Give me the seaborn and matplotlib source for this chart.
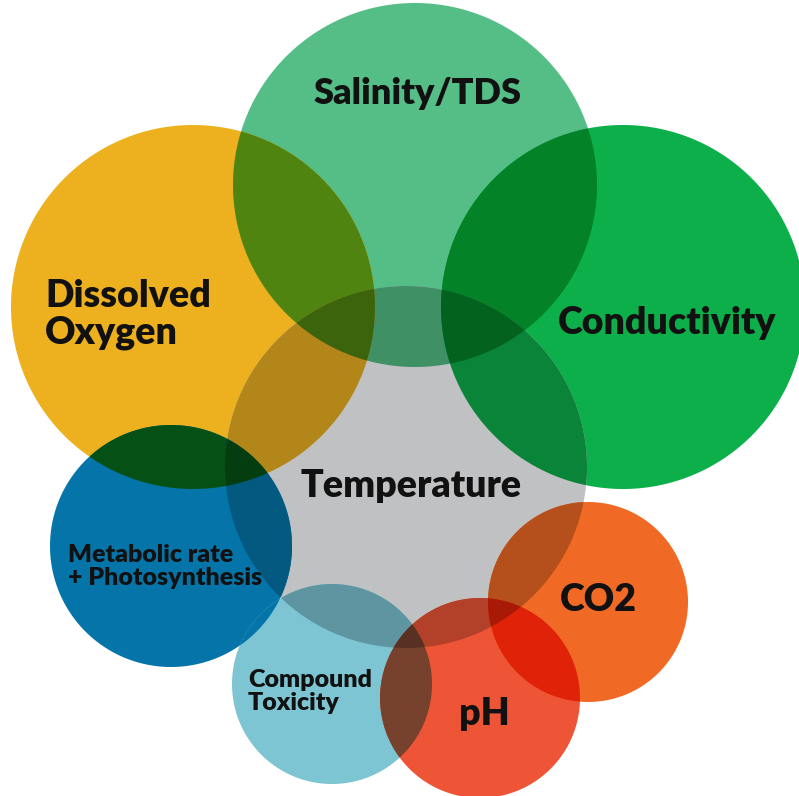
from itertools import combinations

import matplotlib
matplotlib.use("Agg")
import matplotlib.pyplot as plt
import numpy as np
import seaborn as sns
from matplotlib.colors import to_rgb
from matplotlib.patches import Polygon

# Circles of the diagram (pixel space of the original picture)
labels = ["Salinity/TDS", "Dissolved\nOxygen", "Conductivity", "Temperature",
          "Metabolic rate\n+ Photosynthesis", "Compound\nToxicity", "pH", "CO2"]
centers_x = [415, 193, 623, 406, 171, 332, 480, 588]
centers_y = [185, 307, 307, 467, 546, 684, 698, 602]
radii = [182, 182, 182, 181, 121, 100, 100, 100]
colors = ["#55BE86", "#EDB120", "#0DAF4B", "#C0C1C3",
          "#0575A9", "#7EC5D3", "#EE5436", "#F06A25"]

# the blue circle covers the light blue one instead of blending with it
covered_by = {5: 4}

# label layout: (x, baseline y of last line, horizontal alignment, font size)
label_layout = [
    (418, 104, "center", 26),
    (45, 343, "left", 27),
    (667, 334, "center", 27),
    (411, 497, "center", 27),
    (68, 585, "left", 18),
    (248, 710, "left", 18),
    (484, 725, "center", 27),
    (598, 611, "center", 27),
]

sns.set_theme(style="white")
plt.rcParams['font.family'] = ['Lato', 'DejaVu Sans']


def intersection_polygon(idx, n=720):
    """Polygono convexo de la interseccion de los circulos en idx."""
    t = np.linspace(0, 2 * np.pi, n, endpoint=False)
    pts = []
    for i in idx:
        px = centers_x[i] + radii[i] * np.cos(t)
        py = centers_y[i] + radii[i] * np.sin(t)
        keep = np.ones(n, dtype=bool)
        for j in idx:
            if j == i:
                continue
            keep &= (px - centers_x[j]) ** 2 + (py - centers_y[j]) ** 2 <= radii[j] ** 2
        pts.append(np.column_stack([px[keep], py[keep]]))
    pts = np.vstack(pts)
    if len(pts) < 3:
        return None
    c = pts.mean(axis=0)
    order = np.argsort(np.arctan2(pts[:, 1] - c[1], pts[:, 0] - c[0]))
    return pts[order]


fig, ax = plt.subplots(figsize=(7.99, 7.96), dpi=100)
fig.subplots_adjust(0, 0, 1, 1)

rgb = [np.array(to_rgb(c)) for c in colors]
n_circ = len(labels)
# multiply blend: paint each intersection with the product of its colours
for k in range(1, n_circ + 1):
    for idx in combinations(range(n_circ), k):
        poly = intersection_polygon(idx)
        if poly is None:
            continue
        usados = [i for i in idx if not (i in covered_by and covered_by[i] in idx)]
        col = np.prod([rgb[i] for i in usados], axis=0)
        ax.add_patch(Polygon(poly, closed=True, facecolor=col, edgecolor="none",
                             linewidth=0, zorder=k))

for lab, (x, y, ha, fs) in zip(labels, label_layout):
    ax.text(x, y, lab, ha=ha, va="baseline", fontsize=fs, fontweight="heavy",
            color="#111111", zorder=50, linespacing=1.08)

ax.set_xlim(0, 799)
ax.set_ylim(796, 0)
ax.set_aspect("equal")
ax.axis("off")
fig.savefig("out.png", dpi=100, facecolor="white")
